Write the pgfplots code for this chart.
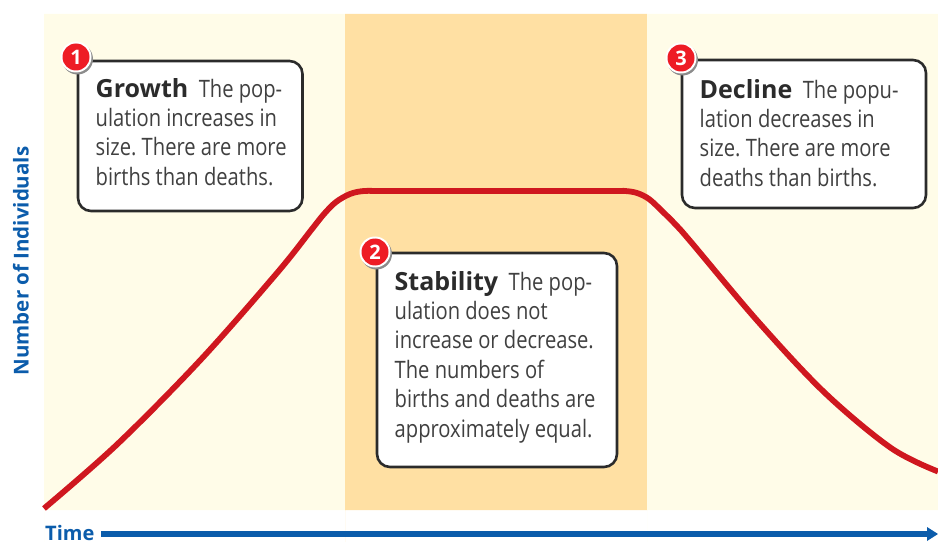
\documentclass[border=0pt]{standalone}
\usepackage{fontspec}
\setmainfont[FakeStretch=0.84]{Open Sans}
\newfontfamily\hb[FakeStretch=1.0]{Open Sans Bold}
\usepackage{pgfplots}
\pgfplotsset{compat=1.18}
\definecolor{bgl}{HTML}{FFFCE8}
\definecolor{bgm}{HTML}{FFE0A3}
\definecolor{curve}{HTML}{CF171F}
\definecolor{blu}{HTML}{0B5CAB}
\definecolor{bdr}{HTML}{2B2B2B}
\definecolor{txt}{HTML}{404040}
\definecolor{badge}{HTML}{EE1C25}
\newcommand{\bx}[4]{\draw[bdr,line width=2.6pt,fill=white,rounded corners=13pt] (#1,#2) rectangle (#3,#4);}
\newcommand{\badgeat}[3]{%
  \fill[black!45] (#1+1.5,#2-2) circle (15.5);
  \fill[white] (#1,#2) circle (15.5);
  \fill[badge] (#1,#2) circle (13.5);
  \node[white,font=\fontsize{20}{20}\selectfont\hb] at (#1,#2) {#3};}
\newcommand{\boxtext}[3]{\node[anchor=north west,inner sep=0pt,align=left,text=txt,font=\fontsize{24}{29.4}\selectfont\frenchspacing] at (#1,#2) {#3};}
\newcommand{\hd}[1]{{\fontsize{25}{29.4}\selectfont\hb\color{bdr}#1}}
\begin{document}
\begin{tikzpicture}[x=1pt,y=1pt]
\begin{axis}[
  anchor=origin, at={(0,0)},
  x=1pt,y=1pt,
  xmin=0,xmax=938,ymin=0,ymax=542,
  hide axis, clip=false, scale only axis,
  width=938pt,height=542pt]
\addplot[draw=none,fill=bgl] coordinates {(44,32) (345,32) (345,528) (44,528)} \closedcycle;
\addplot[draw=none,fill=bgm] coordinates {(345,32) (647,32) (647,528) (345,528)} \closedcycle;
\addplot[draw=none,fill=bgl] coordinates {(647,32) (938,32) (938,528) (647,528)} \closedcycle;
\addplot[curve,line width=5.8pt,smooth,tension=0.55] coordinates {
 (44,33.5) (117,97.5) (200,181.5) (277,269) (312,313) (324,328) (336,340) (350,348) (364,351) (385,351)
 (500,351) (610,351) (625,351) (637,349) (649,343) (662,331) (676,317) (691,300) (758,220.5) (825,149) (891,94) (938,70.5)};
\bx{78}{331}{302.5}{481}
\bx{377}{75}{617}{289}
\bx{682}{334}{926}{482}
\badgeat{76}{485}{1}
\badgeat{375}{290}{2}
\badgeat{681}{484}{3}
\boxtext{95.5}{464}{\hd{Growth}\ \ The pop-\\ulation increases in\\size. There are more\\births than deaths.}
\boxtext{394.5}{271}{\hd{Stability}\ \ The pop-\\ulation does not\\increase or decrease.\\The numbers of\\births and deaths are\\approximately equal.}
\boxtext{699.5}{463}{\hd{Decline}\ \ The popu-\\lation decreases in\\size. There are more\\deaths than births.}
\node[rotate=90,text=blu,font=\fontsize{20.5}{20.5}\selectfont\hb] at (21,281) {Number of Individuals};
\node[anchor=base west,inner sep=0pt,text=blu,font=\fontsize{20}{20}\selectfont\hb] at (45,2) {Time};
\addplot[blu,line width=5.5pt,forget plot] coordinates {(101,8) (928,8)};
\fill[blu] (927,1) -- (938,8) -- (927,15) -- cycle;
\end{axis}
\pgfresetboundingbox
\path[use as bounding box] (0,0) rectangle (938pt,542pt);
\end{tikzpicture}
\end{document}
